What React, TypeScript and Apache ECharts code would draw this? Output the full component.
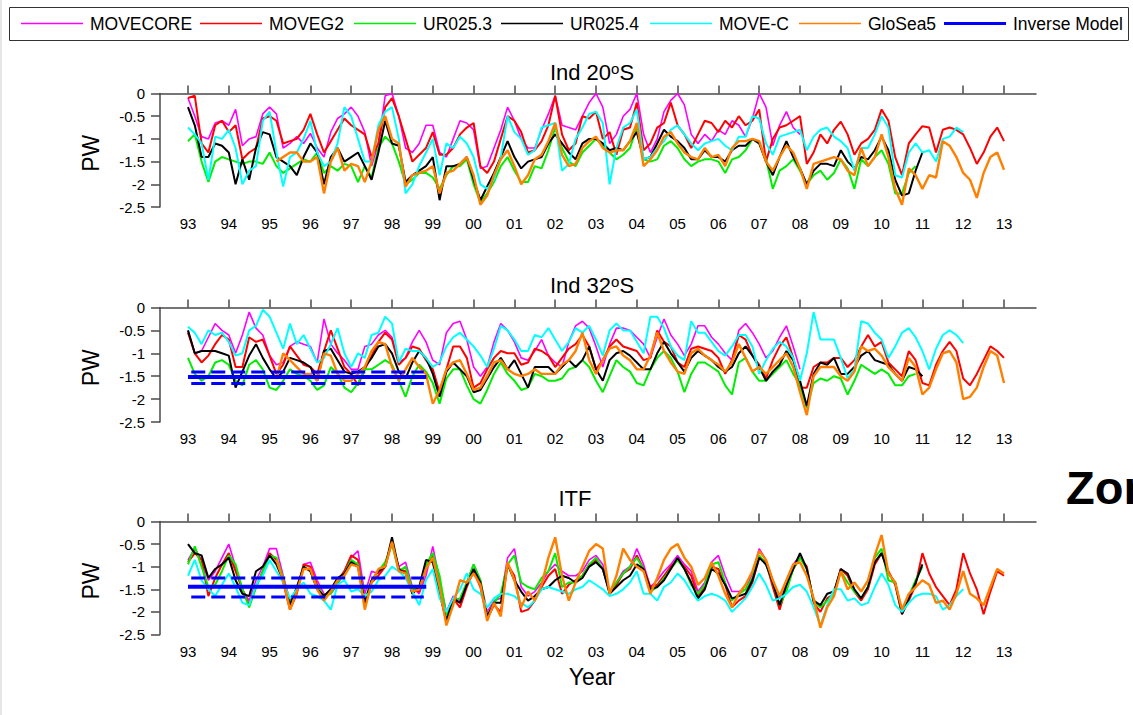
import React, { useEffect, useRef } from "react";
import * as echarts from "echarts";

const FONT = "Liberation Sans, Arial, sans-serif";
const YEAR0 = 1993;
const STEP = 1 / 6; // bimonthly samples
const GLOSEA_K0 = 13;

const modelNames = ["MOVECORE", "MOVEG2", "UR025.3", "UR025.4", "MOVE-C", "GloSea5"];
const modelColors = ["#ff00ff", "#ff0000", "#00ee00", "#000000", "#00ffff", "#ff8000"];
const modelWidths = [1.6, 2, 2, 2, 2, 2.4];
const modelStart = [0, 0, 0, 0, 0, GLOSEA_K0];
const yearTicks = [1993, 1994, 1995, 1996, 1997, 1998, 1999, 2000, 2001, 2002, 2003, 2004, 2005, 2006, 2007, 2008, 2009, 2010, 2011, 2012, 2013];
const yMin = -2.5;
const yMax = 0;

// ---------- Ind 20°S ----------
const p1Movecore = [
  -0.1, -0.5, -0.95, -1.0, -0.65, -0.6, -0.7, -0.35, -1.15, -1.0,
  -0.95, -0.45, -0.3, -0.45, -1.2, -1.1, -0.95, -1.1, -0.88, -1.2,
  -1.4, -0.85, -0.55, -0.45, -0.3, -0.5, -0.85, -1.6, -1.1, -0.05,
  0, -0.5, -1.2, -1.3, -1.1, -0.7, -0.7, -1.3, -1.4, -1.0,
  -0.6, -0.65, -0.8, -1.65, -1.6, -1.2, -0.8, -0.3, -0.6, -1.0,
  -1.2, -1.2, -0.8, -0.45, -0.05, -0.7, -0.75, -0.8, -0.5, -0.2,
  0, -0.3, -1.1, -0.9, -0.5, -0.35, 0, -0.9, -1.3, -1.0,
  -0.4, -0.15, 0, -0.25, -0.9, -1.1, -0.9, -1.05, -0.8, -0.9,
  -0.6, -0.7, -0.95, -0.55, 0, -0.3, -1.15, -0.7, -0.4, -0.75,
  -0.9,
];
const p1Moveg2 = [
  -0.1, -0.05, -1.1, -1.3, -0.7, -0.6, -0.85, -0.7, -1.45, -1.3,
  -1.2, -0.55, -0.5, -0.6, -1.1, -1.05, -1.0, -0.8, -0.45, -0.9,
  -1.3, -1.05, -0.8, -0.55, -0.7, -0.8, -0.9, -1.4, -1.1, -0.3,
  -0.1, -0.5, -1.0, -1.5, -1.35, -1.2, -0.85, -1.35, -1.35, -1.2,
  -0.9, -0.75, -0.65, -1.6, -1.75, -1.5, -1.0, -0.5, -0.6, -0.85,
  -1.3, -1.25, -1.05, -0.7, -0.05, -0.9, -1.25, -1.1, -0.5, -0.55,
  -0.4, -1.0, -0.85, -1.35, -0.8, -0.75, -0.2, -1.25, -1.1, -0.75,
  -0.65, -0.2, -0.7, -0.9, -1.2, -0.9, -0.6, -0.65, -0.85, -0.6,
  -0.75, -0.5, -0.7, -0.6, -0.35, -1.5, -1.0, -0.75, -0.7, -0.6,
  -0.5, -1.55, -1.3, -0.9, -1.1, -0.8, -0.62, -0.9, -1.35, -1.1,
  -1.0, -0.8, -0.35, -0.6, -1.4, -1.8, -1.1, -0.9, -0.72, -0.75,
  -1.3, -0.8, -0.75, -0.8, -0.9, -1.2, -1.55, -1.3, -0.95, -0.75,
  -1.05,
];
const p1Ur0253 = [
  -1.05, -0.9, -1.5, -1.95, -1.5, -1.4, -1.45, -1.5, -1.55, -1.5,
  -1.5, -1.55, -1.3, -1.6, -1.75, -1.65, -1.55, -1.45, -1.5, -1.3,
  -1.75, -1.6, -1.7, -1.55, -1.6, -1.95, -1.6, -1.85, -1.2, -0.95,
  -1.1, -1.5, -2.0, -1.9, -1.75, -1.75, -1.85, -2.1, -1.8, -1.6,
  -1.6, -1.45, -2.0, -2.4, -2.2, -1.95, -1.6, -1.4, -1.7, -1.95,
  -1.95, -1.6, -1.65, -1.25, -0.75, -1.2, -1.5, -1.6, -1.3, -1.15,
  -1.0, -1.15, -1.3, -1.45, -1.35, -1.2, -0.75, -1.45, -1.5, -1.45,
  -1.15, -1.05, -1.2, -1.45, -1.6, -1.5, -1.45, -1.45, -1.5, -1.75,
  -1.45, -1.4, -1.25, -1.0, -1.1, -1.45, -2.1, -1.7, -1.6, -1.45,
  -1.7, -2.0, -1.8, -1.7, -1.9, -1.75, -1.45, -1.65, -2.1, -1.45,
  -1.6, -1.4, -1.25, -1.55, -2.2, -2.2, -1.75, -1.6,
];
const p1Ur0254 = [
  -0.3, -0.7, -1.4, -1.4, -1.1, -1.15, -1.3, -2.0, -1.45, -1.9,
  -1.2, -0.85, -0.9, -1.4, -1.5, -1.6, -1.8, -1.4, -1.1, -1.3,
  -2.0, -1.4, -1.2, -1.5, -1.4, -1.3, -1.6, -1.9, -1.3, -0.6,
  -1.1, -1.15, -1.95, -1.8, -1.7, -1.6, -1.4, -2.35, -1.6, -1.6,
  -1.55, -1.4, -1.9, -2.35, -2.05, -1.75, -1.4, -1.05, -1.4, -1.65,
  -1.5, -1.45, -1.4, -1.1, -0.9, -1.1, -1.3, -1.45, -1.1, -1.0,
  -1.0, -1.1, -1.25, -1.2, -1.25, -1.05, -0.85, -1.45, -1.4, -1.1,
  -0.8, -0.95, -1.05, -1.2, -1.45, -1.45, -1.25, -1.4, -1.4, -1.5,
  -1.25, -1.15, -1.15, -1.0, -1.1, -1.5, -1.8, -1.4, -1.05, -1.4,
  -1.65, -2.0, -1.7, -1.55, -1.55, -1.6, -1.25, -1.5, -1.65, -1.4,
  -1.45, -1.25, -0.95, -1.25, -1.9, -2.25, -2.2, -1.7, -1.3,
];
const p1MoveC = [
  -0.75, -0.9, -1.1, -1.9, -0.95, -1.0, -0.8, -1.2, -2.0, -1.7,
  -1.6, -0.6, -0.4, -1.3, -2.05, -1.4, -1.3, -1.0, -0.6, -1.3,
  -1.6, -1.5, -1.1, -0.3, -0.5, -1.0, -1.5, -1.5, -0.7, -0.4,
  -0.3, -1.0, -2.2, -2.0, -1.6, -1.3, -1.0, -1.8, -1.1, -1.2,
  -0.95, -1.1, -1.4, -2.0, -2.1, -1.9, -1.4, -0.5, -0.85, -1.0,
  -1.35, -1.25, -0.75, -0.7, -0.65, -1.7, -1.55, -1.0, -0.75, -0.45,
  -0.4, -0.65, -2.0, -1.2, -0.75, -0.65, -0.35, -1.45, -1.4, -1.2,
  -1.05, -0.8, -0.7, -0.9, -1.1, -1.25, -1.1, -1.05, -1.0, -1.15,
  -1.25, -0.95, -0.95, -0.5, -0.55, -1.1, -1.35, -0.95, -0.9, -0.85,
  -0.8, -1.25, -0.95, -0.8, -0.75, -0.95, -1.05, -1.2, -1.7, -1.2,
  -1.2, -0.9, -0.5, -0.75, -1.8, -1.85, -1.3, -1.1, -1.3, -1.25,
  -1.5, -1.0, -0.95, -0.75, -0.85,
];
const p1GloSea5 = [
  -1.5, -1.4, -1.3, -1.3, -1.5, -1.5, -1.4,
  -2.2, -1.5, -1.2, -1.7, -1.55, -1.6, -1.95, -1.5, -0.8, -0.5,
  -1.0, -1.1, -2.05, -1.8, -1.75, -1.7, -1.6, -2.2, -1.75, -1.7,
  -1.55, -1.4, -1.8, -2.45, -2.25, -1.8, -1.45, -1.25, -1.6, -2.0,
  -1.8, -1.45, -1.35, -1.05, -0.65, -1.35, -1.6, -1.55, -1.2, -1.05,
  -0.95, -1.2, -1.3, -1.25, -1.25, -1.05, -0.65, -1.6, -1.45, -1.25,
  -0.95, -0.85, -1.1, -1.3, -1.4, -1.45, -1.2, -1.4, -1.35, -1.6,
  -1.2, -1.05, -1.05, -1.0, -1.05, -1.5, -1.7, -1.4, -1.15, -1.3,
  -1.65, -2.1, -1.55, -1.5, -1.45, -1.4, -1.45, -1.7, -1.8, -1.2,
  -1.6, -1.4, -0.9, -1.4, -2.1, -2.45, -1.65, -1.8, -2.1, -1.8,
  -1.85, -1.05, -1.15, -1.4, -1.75, -1.9, -2.3, -1.75, -1.4, -1.3, -1.68,
];

// ---------- Ind 32°S ----------
const p2Movecore = [
  -0.5, -1.0, -0.95, -0.65, -0.35, -0.5, -0.6, -1.0, -0.6, -0.1,
  -0.45, -0.6, -1.05, -1.25, -1.2, -0.85, -0.75, -0.8, -0.85, -1.2,
  -0.25, -0.8, -1.0, -1.15, -1.35, -1.35, -0.85, -0.8, -0.6, -0.5,
  -0.65, -1.2, -1.1, -0.75, -0.5, -0.75, -1.15, -1.25, -0.55, -0.35,
  -0.3, -0.7, -1.3, -1.5, -1.3, -0.75, -0.35, -0.5, -0.75, -1.1,
  -1.15, -0.95, -0.7, -1.05, -1.2, -1.3, -0.75, -0.4, -0.3, -0.45,
  -0.85, -1.3, -0.8, -0.45, -0.45, -0.5, -0.65, -0.8, -1.1, -0.65,
  -0.25, -0.6, -0.8, -1.05, -0.8, -0.4, -0.4, -0.65, -0.8, -1.0,
  -1.15, -0.5, -0.35, -0.55, -0.8, -1.1, -0.95, -0.65, -0.4, -0.85,
  -1.35,
];
const p2Moveg2 = [
  -0.55, -1.0, -1.2, -1.05, -0.8, -0.6, -0.7, -1.3, -1.3, -0.65,
  -0.75, -0.7, -1.05, -1.45, -1.25, -0.85, -1.05, -1.25, -1.3, -1.45,
  -0.95, -0.5, -0.9, -1.3, -1.45, -1.7, -1.35, -1.05, -0.75, -0.55,
  -0.7, -1.25, -1.1, -0.85, -0.9, -1.15, -1.35, -1.85, -1.35, -0.85,
  -0.85, -1.1, -1.75, -1.65, -1.35, -1.1, -0.95, -1.0, -1.0, -1.25,
  -1.2, -0.9, -0.95, -1.05, -1.3, -1.1, -0.9, -0.8, -0.6, -0.85,
  -1.35, -1.15, -0.85, -0.7, -0.85, -0.9, -0.95, -1.15, -1.1, -0.5,
  -0.75, -0.85, -1.2, -1.3, -0.9, -0.85, -0.9, -0.95, -1.1, -1.45,
  -1.15, -0.6, -0.7, -1.05, -1.25, -1.55, -1.15, -0.85, -0.65, -1.1,
  -1.75, -1.75, -1.3, -1.2, -1.2, -1.1, -1.1, -1.3, -1.15, -0.85,
  -0.6, -0.85, -0.75, -1.2, -1.35, -1.5, -0.95, -1.15, -1.65, -1.7,
  -1.25, -0.95, -0.75, -0.95, -1.55, -1.7, -1.45, -1.15, -0.85, -0.95,
  -1.1,
];
const p2Ur0253 = [
  -1.1, -1.45, -1.6, -1.5, -1.2, -1.15, -1.25, -1.6, -1.7, -1.25,
  -1.15, -1.35, -1.75, -1.8, -1.6, -1.35, -1.45, -1.5, -1.6, -1.8,
  -1.7, -1.3, -1.45, -1.75, -1.85, -1.65, -1.35, -1.35, -1.25, -1.15,
  -1.25, -1.6, -1.95, -1.5, -1.25, -1.4, -1.65, -2.1, -1.55, -1.35,
  -1.35, -1.7, -2.0, -2.1, -1.8, -1.45, -1.2, -1.45, -1.6, -1.8,
  -1.75, -1.45, -1.5, -1.6, -1.6, -1.55, -1.35, -1.3, -1.15, -1.3,
  -1.6, -1.85, -1.5, -1.15, -1.3, -1.4, -1.65, -1.7, -1.35, -1.1,
  -0.95, -1.1, -1.4, -1.85, -1.45, -1.2, -1.2, -1.3, -1.4, -1.7,
  -1.9, -1.2, -1.1, -1.4, -1.6, -1.6, -1.45, -1.3, -1.15, -1.45,
  -1.7, -2.2, -1.65, -1.55, -1.6, -1.5, -1.55, -1.9, -1.6, -1.25,
  -1.35, -1.45, -1.35, -1.45, -1.7, -1.7, -1.5, -1.45,
];
const p2Ur0254 = [
  -0.5, -1.0, -0.95, -0.95, -0.95, -1.0, -1.05, -1.75, -1.4, -1.05,
  -0.8, -1.1, -1.35, -1.55, -1.4, -1.1, -1.15, -1.2, -1.3, -1.6,
  -0.95, -0.9, -1.15, -1.4, -1.45, -1.4, -1.3, -1.1, -0.85, -0.8,
  -1.0, -1.4, -1.55, -1.2, -0.95, -1.1, -1.45, -1.95, -1.4, -1.2,
  -1.35, -1.5, -1.85, -1.8, -1.55, -1.3, -1.1, -1.35, -1.15, -1.45,
  -1.75, -1.3, -1.3, -1.3, -1.45, -1.3, -1.15, -1.3, -1.15, -0.85,
  -1.35, -1.6, -1.15, -1.0, -0.95, -1.05, -1.2, -1.35, -1.35, -1.0,
  -0.75, -1.0, -1.2, -1.4, -1.1, -0.95, -1.05, -1.15, -1.3, -1.4,
  -1.3, -1.0, -0.85, -1.05, -1.3, -1.6, -1.4, -1.25, -0.95, -1.15,
  -1.6, -2.15, -1.45, -1.2, -1.25, -1.1, -1.45, -1.45, -1.3, -1.05,
  -0.95, -1.15, -1.2, -1.25, -1.45, -1.6, -1.3, -1.35, -1.5,
];
const p2MoveC = [
  -0.42, -0.55, -0.8, -0.5, -0.6, -0.55, -0.75, -1.05, -1.0, -0.5,
  -0.4, -0.05, -0.2, -0.55, -0.9, -0.35, -0.8, -0.6, -0.9, -1.2,
  -1.1, -0.8, -0.45, -1.0, -1.3, -1.0, -1.1, -0.6, -0.55, -0.2,
  -0.35, -1.2, -0.9, -0.95, -0.95, -1.1, -1.3, -1.2, -0.85, -0.65,
  -0.55, -0.7, -0.85, -1.05, -1.3, -0.9, -0.4, -0.5, -0.7, -0.95,
  -0.95, -0.6, -0.65, -0.45, -0.7, -0.95, -0.75, -0.45, -0.55, -0.4,
  -0.7, -1.05, -0.5, -0.35, -0.5, -0.5, -0.75, -1.0, -0.2, -0.2,
  -0.45, -0.85, -1.05, -1.15, -0.3, -0.55, -0.55, -0.75, -0.95, -1.05,
  -0.85, -0.6, -0.6, -0.85, -1.45, -1.15, -0.9, -0.75, -0.85, -1.1,
  -1.6, -1.0, -0.1, -0.7, -0.7, -0.7, -1.1, -1.55, -1.35, -0.3,
  -0.35, -0.55, -0.7, -1.1, -0.85, -0.55, -0.45, -0.65, -0.95, -1.35,
  -0.9, -0.6, -0.5, -0.6, -0.78,
];
const p2GloSea5 = [
  -1.55, -1.0, -1.15, -1.3, -1.45, -1.45, -1.6,
  -1.0, -1.05, -1.45, -1.6, -1.6, -1.45, -1.3, -0.95, -0.75, -0.8,
  -1.3, -1.6, -1.35, -1.1, -1.3, -1.45, -2.1, -1.8, -1.35, -1.2,
  -1.15, -1.45, -1.8, -1.75, -1.5, -1.2, -1.15, -1.35, -1.45, -1.5,
  -1.45, -1.35, -1.45, -1.45, -1.45, -1.25, -1.15, -0.95, -0.55, -1.15,
  -1.45, -1.15, -0.9, -0.85, -1.05, -1.15, -1.35, -1.35, -1.05, -0.55,
  -0.95, -1.2, -1.4, -1.45, -1.0, -0.9, -1.05, -1.15, -1.25, -1.4,
  -1.2, -0.8, -1.1, -1.4, -1.3, -1.45, -1.3, -1.15, -1.0, -1.3,
  -1.85, -2.35, -1.5, -1.3, -1.3, -1.3, -1.5, -1.6, -1.4, -0.85,
  -0.95, -0.9, -1.05, -1.3, -1.45, -1.6, -1.1, -1.3, -1.9, -1.75,
  -1.35, -1.0, -0.95, -1.2, -2.0, -1.95, -1.75, -1.3, -0.95, -1.05, -1.65,
];

// ---------- ITF ----------
const p3Movecore = [
  -0.85, -0.6, -0.85, -1.3, -1.1, -0.8, -0.5, -1.0, -1.5, -1.75,
  -1.3, -1.0, -0.6, -0.6, -1.2, -1.75, -1.5, -0.95, -0.9, -1.3,
  -1.6, -1.6, -1.4, -1.1, -0.8, -0.65, -1.6, -1.1, -1.15, -0.95,
  -0.45, -1.0, -0.9, -1.45, -1.6, -1.2, -0.55, -1.3, -2.0, -1.65,
  -1.75, -1.35, -0.95, -1.3, -2.0, -1.75, -1.7, -0.8, -0.6, -1.45,
  -1.65, -1.55, -1.35, -1.1, -0.95, -1.1, -1.2, -1.2, -1.1, -0.85,
  -0.75, -0.95, -1.6, -1.35, -1.1, -1.0, -0.6, -0.95, -1.45, -1.3,
  -1.1, -0.95, -0.75, -0.95, -1.1, -1.55, -1.35, -0.9, -0.75, -1.2,
  -1.55, -1.55, -1.5, -1.15, -0.6, -0.85, -1.3, -1.7, -1.3, -0.95,
  -0.75,
];
const p3Moveg2 = [
  -0.9, -0.7, -0.85, -1.65, -1.25, -0.95, -0.7, -1.1, -1.5, -1.85,
  -1.45, -1.1, -0.7, -0.85, -1.35, -1.95, -1.6, -0.95, -1.0, -1.4,
  -1.7, -1.55, -1.3, -1.1, -0.75, -0.85, -1.85, -1.35, -1.2, -1.0,
  -0.45, -1.05, -1.1, -1.5, -1.55, -1.05, -0.75, -1.5, -2.15, -1.7,
  -1.9, -1.45, -1.1, -1.45, -2.15, -1.85, -2.0, -0.95, -1.2, -2.0,
  -1.95, -1.75, -1.45, -1.2, -1.05, -1.6, -1.4, -1.3, -1.2, -0.95,
  -0.85, -1.05, -1.55, -1.4, -1.15, -1.05, -0.75, -1.05, -1.45, -1.4,
  -1.2, -1.0, -0.85, -1.0, -1.2, -1.65, -1.45, -1.0, -1.05, -1.4,
  -1.9, -1.75, -1.65, -1.35, -0.8, -0.9, -1.45, -1.95, -1.45, -1.05,
  -0.8, -1.0, -1.8, -2.0, -1.7, -1.6, -1.05, -1.2, -1.55, -1.75,
  -1.5, -0.95, -0.7, -1.1, -1.4, -2.05, -1.75, -1.4, -0.7, -1.15,
  -1.45, -1.65, -1.85, -1.5, -0.7, -1.15, -1.5, -2.05, -1.55, -1.1,
  -1.2,
];
const p3Ur0253 = [
  -0.95, -0.55, -1.0, -1.45, -1.4, -1.1, -0.75, -0.95, -1.5, -1.9,
  -1.45, -1.1, -0.75, -0.8, -1.25, -1.8, -1.55, -1.0, -1.1, -1.45,
  -1.65, -1.6, -1.35, -1.15, -0.85, -0.95, -1.75, -1.3, -1.1, -0.9,
  -0.5, -1.1, -1.0, -1.5, -1.5, -0.95, -0.7, -1.2, -2.1, -1.75,
  -1.7, -1.35, -0.95, -1.3, -2.1, -1.8, -1.6, -0.95, -0.75, -1.35,
  -1.45, -1.5, -1.25, -1.1, -0.7, -1.45, -1.35, -1.35, -1.2, -0.95,
  -0.8, -1.05, -1.55, -1.35, -1.15, -1.0, -0.8, -1.05, -1.55, -1.45,
  -1.25, -1.05, -0.85, -1.05, -1.4, -1.6, -1.4, -0.95, -0.9, -1.35,
  -1.75, -1.6, -1.5, -1.25, -0.75, -0.95, -1.35, -1.85, -1.55, -1.05,
  -0.8, -1.05, -1.75, -1.9, -1.75, -1.6, -1.1, -1.35, -1.55, -1.7,
  -1.45, -0.8, -0.6, -1.3, -1.35, -2.0, -1.65, -1.3, -1.0,
];
const p3Ur0254 = [
  -0.5, -0.7, -0.75, -1.25, -1.05, -0.95, -0.8, -1.3, -1.6, -1.65,
  -1.1, -1.0, -0.75, -0.95, -1.3, -1.85, -1.45, -1.0, -1.1, -1.5,
  -1.65, -1.5, -1.25, -1.15, -0.9, -1.0, -1.8, -1.3, -1.1, -1.0,
  -0.35, -1.05, -1.15, -1.6, -1.45, -0.85, -0.9, -1.6, -2.2, -1.7,
  -1.8, -1.4, -1.05, -1.35, -2.1, -1.8, -1.8, -0.95, -1.3, -1.55,
  -1.75, -1.65, -1.5, -1.45, -1.3, -1.2, -1.25, -1.35, -1.25, -1.0,
  -0.9, -1.05, -1.6, -1.45, -1.3, -1.2, -0.95, -1.05, -1.5, -1.45,
  -1.3, -1.05, -0.8, -1.05, -1.35, -1.7, -1.5, -1.05, -1.15, -1.4,
  -1.7, -1.65, -1.6, -1.3, -0.8, -0.95, -1.35, -1.85, -1.4, -1.05,
  -0.7, -1.05, -1.75, -1.85, -1.6, -1.55, -1.05, -1.15, -1.5, -1.7,
  -1.45, -0.9, -0.7, -1.15, -1.35, -2.05, -1.7, -1.35, -0.95,
];
const p3MoveC = [
  -1.2, -0.85, -1.3, -1.5, -1.65, -1.4, -1.15, -1.45, -1.8, -1.85,
  -1.4, -1.2, -0.85, -1.1, -1.35, -1.7, -1.5, -1.35, -1.6, -1.65,
  -1.75, -1.95, -1.4, -1.3, -1.55, -1.5, -1.65, -1.55, -1.3, -1.2,
  -1.0, -1.1, -1.25, -1.55, -1.85, -1.3, -1.05, -1.7, -2.0, -1.7,
  -1.5, -1.15, -1.5, -1.6, -1.9, -1.7, -1.6, -1.6, -1.65, -1.8,
  -1.9, -1.75, -1.5, -1.45, -1.5, -1.55, -1.6, -1.5, -1.45, -1.3,
  -1.4, -1.5, -1.65, -1.6, -1.5, -1.35, -1.1, -1.6, -1.6, -1.75,
  -1.45, -1.35, -1.15, -1.3, -1.55, -1.75, -1.65, -1.6, -1.65, -1.75,
  -2.0, -1.85, -1.7, -1.45, -1.15, -1.4, -1.75, -1.7, -1.6, -1.45,
  -1.4, -1.55, -1.9, -2.3, -1.85, -1.5, -1.5, -1.75, -1.7, -1.85,
  -1.8, -1.45, -1.15, -1.4, -1.85, -2.0, -1.8, -1.65, -1.6, -1.6,
  -1.65, -1.95, -1.85, -1.65, -1.5,
];
const p3GloSea5 = [
  -0.85, -1.3, -1.95, -1.55, -1.05, -1.05, -1.5,
  -1.75, -1.55, -1.3, -1.2, -0.95, -1.0, -1.95, -1.35, -1.05, -1.0,
  -0.45, -1.1, -1.15, -1.55, -1.5, -1.05, -0.8, -1.45, -2.3, -1.85,
  -1.3, -1.35, -1.15, -1.4, -2.2, -1.8, -2.1, -0.9, -1.3, -1.9,
  -1.55, -1.75, -1.4, -0.8, -0.35, -1.2, -1.75, -1.35, -1.0, -0.65,
  -0.5, -0.6, -1.6, -1.2, -0.6, -0.85, -1.0, -1.1, -1.6, -1.25,
  -0.85, -0.6, -0.5, -0.8, -1.0, -1.4, -1.25, -0.9, -1.2, -1.6,
  -1.9, -1.6, -1.4, -1.1, -0.65, -0.85, -1.3, -1.65, -1.3, -0.95,
  -0.9, -1.2, -1.7, -2.35, -1.9, -1.65, -1.1, -1.5, -1.35, -1.55,
  -1.3, -0.75, -0.3, -1.15, -1.35, -1.95, -1.6, -1.45, -1.3, -1.4,
  -1.8, -1.75, -1.95, -1.6, -1.1, -1.6, -1.7, -1.85, -1.45, -1.05, -1.15,
];

// Inverse model (mean and bounds), per panel
const invMean = [null, -1.52, -1.445];
const invUpper = [null, -1.41, -1.25];
const invLower = [null, -1.66, -1.67];
const invSpan = [1993.0, 1998.84];
const invDashSpan = [1993.08, 1998.78];

const panelTitles = [["Ind 20", "o", "S"], ["Ind 32", "o", "S"], ["ITF", "", ""]];
const panelData = [
  [p1Movecore, p1Moveg2, p1Ur0253, p1Ur0254, p1MoveC, p1GloSea5],
  [p2Movecore, p2Moveg2, p2Ur0253, p2Ur0254, p2MoveC, p2GloSea5],
  [p3Movecore, p3Moveg2, p3Ur0253, p3Ur0254, p3MoveC, p3GloSea5],
];

// layout
const gridTops = [93.5, 307.5, 521.5];
const gridHeights = [113.5, 114.5, 113];
const GRID_LEFT = 160;
const GRID_RIGHT = 97;
const X_MIN = 1992.314;
const X_MAX = 2013.784;
const titlePos = [[592, 72], [592, 285], [575, 498]];
const legendLineX = [21, 200, 354, 501, 650, 799, 944];
const legendNames = [...modelNames, "Inverse Model"];
const legendColors = [...modelColors, "#0000ff"];
const LEGEND_RIGHT = 1128.5;

function toPairs(vals: number[], k0: number) {
  return vals.map((v, i) => [YEAR0 + (k0 + i) * STEP, v]);
}

function buildOption() {
  const grid: any[] = [];
  const xAxis: any[] = [];
  const yAxis: any[] = [];
  const series: any[] = [];
  const graphic: any[] = [];

  for (let p = 0; p < 3; p++) {
    grid.push({ left: GRID_LEFT, right: GRID_RIGHT, top: gridTops[p], height: gridHeights[p], containLabel: false });
    xAxis.push({
      type: "value",
      gridIndex: p,
      min: X_MIN,
      max: X_MAX,
      splitLine: { show: false },
      axisLine: { show: true, lineStyle: { color: "#4a4a4a", width: 1.5 } },
      axisTick: { show: true, inside: true, length: 8, customValues: yearTicks, lineStyle: { color: "#4a4a4a", width: 1.5 } },
      axisLabel: {
        customValues: yearTicks,
        formatter: (v: number) => String(Math.round(v) % 100).padStart(2, "0"),
        fontSize: 15,
        color: "#000",
        fontFamily: FONT,
        margin: 9,
      },
    });
    yAxis.push({
      type: "value",
      gridIndex: p,
      min: yMin,
      max: yMax,
      interval: 0.5,
      splitLine: { show: false },
      axisLine: { show: true, onZero: false, lineStyle: { color: "#4a4a4a", width: 1.5 } },
      axisTick: { show: true, inside: false, length: 9, lineStyle: { color: "#4a4a4a", width: 1.5 } },
      axisLabel: { fontSize: 15, color: "#000", fontFamily: FONT, margin: 15 },
    });

    panelData[p].forEach((vals, m) => {
      series.push({
        type: "line",
        name: modelNames[m],
        xAxisIndex: p,
        yAxisIndex: p,
        data: toPairs(vals, modelStart[m]),
        showSymbol: false,
        symbol: "none",
        silent: true,
        lineStyle: { color: modelColors[m], width: modelWidths[m] },
        itemStyle: { color: modelColors[m] },
      });
    });

    if (invMean[p] !== null) {
      const mk = (val: number, span: number[], dashed: boolean) => ({
        type: "line",
        xAxisIndex: p,
        yAxisIndex: p,
        data: [[span[0], val], [span[1], val]],
        showSymbol: false,
        symbol: "none",
        silent: true,
        z: 5,
        lineStyle: { color: "#0000ff", width: dashed ? 3 : 4, type: dashed ? [14, 6] : "solid" },
      });
      series.push(mk(invMean[p] as number, invSpan, false));
      series.push(mk(invUpper[p] as number, invDashSpan, true));
      series.push(mk(invLower[p] as number, invDashSpan, true));
    }

    // titles
    const [main, sup, tail] = panelTitles[p];
    graphic.push({
      type: "text",
      x: titlePos[p][0],
      y: titlePos[p][1],
      style: {
        text: sup ? `{a|${main}}{s|${sup}}{a|${tail}}` : `{a|${main}}`,
        rich: {
          a: { fontSize: 22, fontFamily: FONT, fill: "#000" },
          s: { fontSize: 15, fontFamily: FONT, fill: "#000", verticalAlign: "top", padding: [0, 0, 6, 0] },
        },
        align: "center",
        verticalAlign: "middle",
      },
    });
    // PW label
    graphic.push({
      type: "text",
      x: 91,
      y: gridTops[p] + gridHeights[p] / 2 + 3,
      rotation: Math.PI / 2,
      style: { text: "PW", fontSize: 23, fontFamily: FONT, fill: "#000", align: "center", verticalAlign: "middle" },
    });
  }

  // Year label
  graphic.push({
    type: "text",
    x: 592,
    y: 677,
    style: { text: "Year", fontSize: 23, fontFamily: FONT, fill: "#000", align: "center", verticalAlign: "middle" },
  });
  // big word on the right, cut by the page edge as in the source
  graphic.push({
    type: "text",
    x: 1066,
    y: 487,
    style: { text: "Zon", fontSize: 47, fontWeight: "bold", fontFamily: FONT, fill: "#000", align: "left", verticalAlign: "middle" },
  });
  // left edge strip
  graphic.push({ type: "rect", shape: { x: 0, y: 0, width: 2, height: 715 }, style: { fill: "#e6e6e6" } });

  // legend box
  graphic.push({
    type: "rect",
    shape: { x: 9.5, y: 7.5, width: LEGEND_RIGHT - 9.5, height: 33 },
    style: { fill: "#fff", stroke: "#333", lineWidth: 1 },
  });
  legendNames.forEach((name, i) => {
    const x0 = legendLineX[i];
    graphic.push({
      type: "line",
      shape: { x1: x0, y1: 23.5, x2: x0 + 62, y2: 23.5 },
      style: { stroke: legendColors[i], lineWidth: i === 6 ? 3 : 1.5 },
    });
    graphic.push({
      type: "text",
      x: x0 + 69,
      y: 24,
      style: { text: name, fontSize: 17.5, fontFamily: FONT, fill: "#000", align: "left", verticalAlign: "middle" },
    });
  });
  // legend box clips the last entry at its right border
  graphic.push({ type: "rect", shape: { x: LEGEND_RIGHT, y: 0, width: 10, height: 45 }, style: { fill: "#fff" } });
  graphic.push({
    type: "line",
    shape: { x1: LEGEND_RIGHT, y1: 7.5, x2: LEGEND_RIGHT, y2: 40.5 },
    style: { stroke: "#333", lineWidth: 1 },
  });

  return {
    animation: false,
    backgroundColor: "#fff",
    grid,
    xAxis,
    yAxis,
    series,
    graphic: { elements: graphic },
  };
}

export default function App() {
  const ref = useRef<HTMLDivElement>(null);
  useEffect(() => {
    if (!ref.current) return;
    const chart = echarts.init(ref.current, null, { renderer: "svg" });
    chart.setOption(buildOption() as any);
    return () => chart.dispose();
  }, []);
  return (
    <div
      ref={ref}
      style={{ position: "fixed", left: 0, top: 0, width: 1133, height: 715, background: "#fff" }}
    />
  );
}
